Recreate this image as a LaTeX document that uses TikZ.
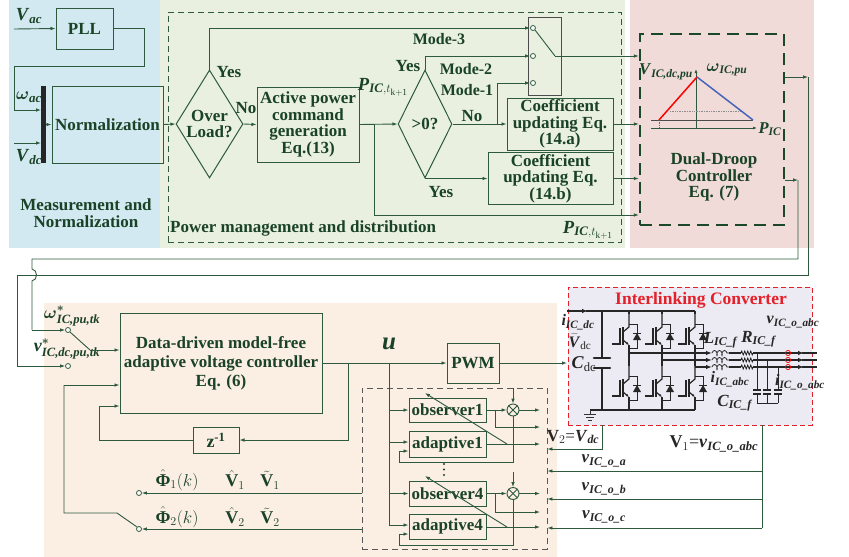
\documentclass[tikz,border=0pt]{standalone}
\usepackage{fontspec}
\usepackage{amsmath}
\setmainfont{Liberation Serif}
\usetikzlibrary{arrows.meta,shapes.geometric,decorations.pathmorphing}
\definecolor{lc}{RGB}{45,90,60}
\definecolor{tc}{RGB}{26,66,38}
\definecolor{bgblue}{RGB}{210,233,241}
\definecolor{bggreen}{RGB}{233,240,224}
\definecolor{bgpink}{RGB}{240,219,217}
\definecolor{bgpeach}{RGB}{251,238,227}
\definecolor{bgconv}{RGB}{236,234,242}
\definecolor{convred}{RGB}{228,32,42}
\definecolor{dkg}{RGB}{28,72,42}
\definecolor{droopblue}{RGB}{70,100,185}
\newcommand{\boxfont}{\fontsize{17}{16.5}\selectfont\bfseries}
\newcommand{\mylab}[2]{$\textbf{\textit{#1}}_{\textbf{\textit{#2}}}$}
\newcommand{\bPhi}{\text{\bfseries Φ}}
\tikzset{
 ln/.style={draw=lc,line width=0.9pt},
 arr/.style={ln,-{Latex[length=5pt,width=3.6pt]}},
 blk/.style={draw=lc,line width=1pt,text=tc,font=\boxfont,align=center,inner sep=0pt},
 lbl/.style={text=tc,font=\boxfont,inner sep=0pt,align=center},
 mlbl/.style={text=tc,font=\fontsize{18.5}{18.5}\selectfont,inner sep=0pt},
 klbl/.style={text=black!85,font=\fontsize{16}{16}\selectfont,inner sep=0pt},
 port/.style={circle,draw=lc,line width=0.8pt,fill=white,inner sep=0pt,minimum size=5pt},
 cv/.style={draw=black!85,line width=1.2pt},
 cvarr/.style={cv,-{Latex[length=6pt,width=4.5pt]}},
 igbt/.pic={
   \draw[cv] (0,-22)--(0,-9)--(-6,-4);
   \draw[cv,-{Latex[length=3pt,width=2.5pt]}] (-6,4)--(0,9);
   \draw[cv] (0,9)--(0,22);
   \draw[black!85,line width=1.6pt] (-6,-9)--(-6,9);
   \draw[cv] (-9,-8)--(-9,8)--(-17,8);
   \draw[cv,line width=0.9pt] (0,-12)--(8,-12)--(8,12)--(0,12);
   \fill[black!85] (4,4)--(12,4)--(8,-3)--cycle;
   \draw[cv,line width=0.9pt] (4,-3)--(12,-3);
 },
}
\begin{document}
\begin{tikzpicture}[x=1pt,y=-1pt]
\useasboundingbox (0,0) rectangle (849,557);
% ---------- backgrounds
\fill[bgblue] (9,0) rectangle (160,248);
\fill[bggreen] (160,0) rectangle (625,248);
\fill[bgpink] (630,0) rectangle (814,248);
\fill[bgpeach] (44,303) rectangle (557,557);
\node[draw=convred,line width=1pt,dash pattern=on 5pt off 3pt,fill=bgconv,minimum width=244,minimum height=138,inner sep=0] (convbox) at (690,356) {};
\node[draw=lc,line width=0.9pt,dash pattern=on 6pt off 4pt,minimum width=453,minimum height=230,inner sep=0] (pmd) at (394.5,127) {};
\node[draw=black!65,line width=0.9pt,dash pattern=on 6pt off 4pt,minimum width=185,minimum height=161,inner sep=0] (inner) at (454.5,468.5) {};
\node[draw=dkg,line width=2.4pt,dash pattern=on 12pt off 7pt,minimum width=144,minimum height=191,inner sep=0] (dd) at (712,129.5) {};

% ---------- top-left: measurement
\node[blk,minimum width=57,minimum height=41] (pll) at (84.5,28.5) {PLL};
\node[blk,minimum width=111,minimum height=77] (norm) at (107.5,124.5) {Normalization};
\node[fill=black!85,minimum width=5,minimum height=77,inner sep=0] (bar) at (43.5,124.5) {};
\node[mlbl] (vac) at (29,16) {\mylab{V}{ac}};
\node[mlbl] (wac) at (29,97) {$\boldsymbol{\omega}_{\textbf{\textit{ac}}}$};
\node[mlbl] (vdc) at (29,157) {\mylab{V}{dc}};
\node[lbl,font=\fontsize{17}{17.5}\selectfont\bfseries] (meas) at (86,213) {Measurement and\\Normalization};
\coordinate (vacin) at (14,29);
\coordinate (vdcin) at (14,143);
\draw[arr] (vacin) -- (pll.west);
\draw[arr] (pll.east) -- (144,28.5) -- (144,66) -- (14,66) -- (14,110) -- (41,110);
\draw[arr] (vdcin) -- (41,143);
\draw[arr] (bar.east) -- (norm.west);

% ---------- power management
\node[blk,diamond,aspect=0.62,minimum width=67,minimum height=108] (ol) at (209.5,124) {Over\\Load?};
\node[blk,minimum width=102,minimum height=75] (apc) at (308,124.5) {Active power\\command\\generation\\Eq.(13)};
\node[blk,diamond,aspect=0.5,minimum width=54,minimum height=108] (gz) at (425,124) {>0?};
\node[blk,minimum width=106,minimum height=52] (ca) at (560,124) {Coefficient\\updating Eq.\\(14.a)};
\node[blk,minimum width=125,minimum height=52] (cb) at (550.5,178.5) {Coefficient\\updating Eq.\\(14.b)};
\node[draw=black!70,line width=1pt,minimum width=33,minimum height=78,inner sep=0] (sw) at (544.5,56) {};
\node[port] (m3) at (533,28) {};
\node[port] (m2) at (533,56) {};
\node[port] (m1) at (533,83) {};
\coordinate (swo) at (555,56);
\draw[ln] (m3.south east) -- (swo);

\node[lbl] (yes1) at (229,72) {Yes};
\node[lbl] (no1) at (246,108) {No};
\node[lbl] (yes2) at (408,66) {Yes};
\node[lbl,font=\fontsize{16}{16}\selectfont\bfseries] (mode3) at (439,39) {Mode-3};
\node[lbl,font=\fontsize{16}{16}\selectfont\bfseries] (mode2) at (466,69) {Mode-2};
\node[lbl,font=\fontsize{16}{16}\selectfont\bfseries] (mode1) at (467,90) {Mode-1};
\node[lbl] (no2) at (472,116) {No};
\node[lbl] (yes3) at (441,192) {Yes};
\node[mlbl] (p1) at (383,87) {$\textbf{\textit{P}}_{\textbf{\textit{IC}},t_{\mathrm{k+1}}}$};
\node[mlbl] (p2) at (588,230) {$\textbf{\textit{P}}_{\textbf{\textit{IC}},t_{\mathrm{k+1}}}$};
\node[lbl,anchor=west] (pmdt) at (170,228) {Power management and distribution};

\draw[arr] (norm.east) -- (ol.west);
\draw[arr] (ol.north) -- (209.5,28) -- (m3.west);
\draw[arr] (ol.east) -- (apc.west);
\draw[arr] (apc.east) -- (gz.west);
\draw[arr] (374,124.5) -- (374,215) -- (dd.west |- 374,215);
\draw[arr] (gz.north) -- (425,56) -- (m2.west);
\draw[arr] (gz.east) -- (ca.west);
\draw[arr] (497,124) -- (497,83) -- (m1.west);
\draw[arr] (gz.south) -- (gz.south -| cb.west);
\draw[arr] (swo) -- (swo -| dd.west);
\draw[arr] (ca.east) -- (ca.east -| dd.west);
\draw[arr] (cb.east) -- (cb.east -| dd.west);

% ---------- dual droop
\node[lbl,font=\fontsize{17}{16.5}\selectfont\bfseries] (ddt) at (714,177) {Dual-Droop\\Controller\\Eq. (7)};
\coordinate (ax0) at (696,128);
\draw[lc,line width=0.8pt,-{Latex[length=4pt,width=3pt]}] (651,128) -- (757,128);
\draw[lc,line width=0.8pt,-{Latex[length=4pt,width=3pt]}] (ax0) -- (696,69);
\draw[black!70,line width=0.7pt] (651,120) -- (753,120);
\draw[black!45,line width=0.7pt,densely dotted] (670,111) -- (740,111);
\draw[black!60,line width=0.7pt,densely dotted] (659,120) -- (659,128);
\draw[red,line width=1.5pt] (659,120) -- (697,77);
\draw[droopblue,line width=1.5pt] (697,77) -- (753,120);
\node[mlbl,font=\fontsize{16.5}{16.5}\selectfont] (vicdc) at (666,72) {\mylab{V}{IC,dc,pu}};
\node[mlbl,font=\fontsize{16.5}{16.5}\selectfont] (wic) at (727,70) {$\boldsymbol{\omega}_{\textbf{\textit{IC,pu}}}$};
\node[mlbl,font=\fontsize{16.5}{16.5}\selectfont] (pic) at (770,129) {\mylab{P}{IC}};

% ---------- feedback wires from dual droop
\coordinate (o1) at (808,77);
\coordinate (o2) at (798,180);
\draw[arr] (dd.east |- o1) -- (o1);
\draw[arr] (dd.east |- o2) -- (o2);
\node[port] (wst) at (68,330) {};
\node[port] (vst) at (68,366) {};
\draw[ln] (o1) -- (808,275) -- (17,275) -- (17,366);
\draw[arr] (17,366) -- (vst.west);
\draw[ln] (o2) -- (798,259) -- (32,259) -- (32,269) .. controls (38,270) and (38,280) .. (32,281) -- (32,330);
\draw[arr] (32,330) -- (wst.west);
\node[mlbl,font=\fontsize{18}{18}\selectfont] (wlab) at (72,316) {$\boldsymbol{\omega}^{\boldsymbol{*}}_{\textbf{\textit{IC,pu,tk}}}$};
\node[mlbl,font=\fontsize{18}{18}\selectfont] (vlab) at (67,349) {$\textbf{\textit{v}}^{\boldsymbol{*}}_{\textbf{\textit{IC,dc,pu,tk}}}$};

% ---------- lower controller
\node[blk,minimum width=202,minimum height=100,font=\fontsize{17}{19}\selectfont\bfseries] (dmf) at (221,363) {Data-driven model-free\\adaptive voltage controller\\Eq. (6)};
\node[blk,minimum width=46,minimum height=26] (zinv) at (216,440) {\fontsize{18}{18}\selectfont z\textsuperscript{-1}};
\node[blk,minimum width=52,minimum height=40] (pwm) at (473,363) {PWM};
\node[text=tc,inner sep=0,font=\fontsize{25}{25}\selectfont\bfseries\itshape] (u) at (389,344) {u};
\coordinate (swb) at (90,350);
\draw[ln] (wst.south east) -- (swb);
\draw[arr] (swb) -- (dmf.west |- swb);
\draw[arr] (dmf.east) -- (pwm.west);
\draw[arr] (348,363) -- (348,440) -- (zinv.east);
\draw[arr] (zinv.west) -- (99,440) -- (99,406) -- (dmf.west |- 99,406);
\draw[arr] (pwm.east) -- (567,363);

% Phi labels and return switch
\node[mlbl,font=\fontsize{18}{18}\selectfont] (phi1) at (177,480) {$\hat{\bPhi}_1(k)$};
\node[mlbl,font=\fontsize{18}{18}\selectfont] (vh1) at (235,480) {$\hat{\mathbf{V}}_1$};
\node[mlbl,font=\fontsize{18}{18}\selectfont] (vt1) at (270,480) {$\tilde{\mathbf{V}}_1$};
\node[mlbl,font=\fontsize{18}{18}\selectfont] (phi2) at (177,517) {$\hat{\bPhi}_2(k)$};
\node[mlbl,font=\fontsize{18}{18}\selectfont] (vh2) at (235,517) {$\hat{\mathbf{V}}_2$};
\node[mlbl,font=\fontsize{18}{18}\selectfont] (vt2) at (270,517) {$\tilde{\mathbf{V}}_2$};
\node[port] (r1) at (139,493) {};
\node[port] (r2) at (139,529) {};
\draw[arr] (inner.west |- r1) -- (r1.east);
\draw[arr] (inner.west |- r2) -- (r2.east);
\coordinate (swc) at (117,513);
\draw[ln] (r2.north west) -- (swc) -- (64,513) -- (64,385);
\draw[arr] (64,385) -- (dmf.west |- 64,385);

% observers / adaptive
\node[blk,minimum width=77,minimum height=24] (ob1) at (447.5,410) {observer1};
\node[blk,minimum width=77,minimum height=26] (ad1) at (447.5,444) {adaptive1};
\node[blk,minimum width=77,minimum height=25] (ob4) at (447.5,493.5) {observer4};
\node[blk,minimum width=77,minimum height=25] (ad4) at (447.5,526.5) {adaptive4};
\foreach \yd in {464,469.5,475}{\fill[tc] (444,\yd) circle[radius=1.1];}
\draw[ln] (389,363) -- (389,525);
\draw[arr] (389,410) -- (ob1.west);
\draw[arr] (389,442) -- (ad1.west |- 389,442);
\draw[arr] (389,493.5) -- (ob4.west);
\draw[arr] (389,525) -- (ad4.west |- 389,525);

\foreach \n/\yo/\ya/\yb/\ybot/\yfb/\ydiag in {1/410/444/427/462/451/393, 4/493.5/527/512/545/534/476}{
  \node[circle,draw=lc,line width=0.9pt,minimum size=12pt,inner sep=0] (mul\n) at (513,\yo) {};
  \draw[ln] (mul\n.north west) -- (mul\n.south east);
  \draw[ln] (mul\n.north east) -- (mul\n.south west);
  \draw[arr] (ob\n.east) -- (mul\n.west);
  \draw[arr] (mul\n.east) -- (540,\yo);
  \draw[arr] (495,\yo) -- (495,\yb) -- (540,\yb);
  \draw[arr] (513,\yo-22) -- (mul\n.north);
  \draw[arr] (mul\n.south) -- (513,\ybot) -- (399,\ybot) -- (399,\yfb) -- (ad\n.west |- 399,\yfb);
  \draw[arr] (ad\n.east |- 486,\ya) -- (540,\ya);
  \draw[arr] (507,\ya) -- (425,\ydiag);
}

% inputs from converter
\coordinate (v2c) at (602,425);
\coordinate (v1c) at (762,425);
\draw[arr] (v2c) -- (602,449) -- (inner.east |- 602,449);
\draw[ln] (v1c) -- (762,528);
\draw[arr] (762,471) -- (inner.east |- 762,471);
\draw[arr] (762,499) -- (inner.east |- 762,499);
\draw[arr] (762,528) -- (inner.east |- 762,528);
\node[klbl,font=\fontsize{17}{17}\selectfont] (v2l) at (573,437) {$\mathbf{V}_2$=\textbf{\textit{V}}$_{\textbf{\textit{dc}}}$};
\node[klbl,font=\fontsize{18}{18}\selectfont] (v1l) at (714,444) {$\mathbf{V}_1$=\textbf{\textit{v}}$_{\textbf{\textit{IC\_o\_abc}}}$};
\node[klbl,font=\fontsize{17}{17}\selectfont] (val) at (604,461) {\mylab{v}{IC\_o\_a}};
\node[klbl,font=\fontsize{17}{17}\selectfont] (vbl) at (604,489) {\mylab{v}{IC\_o\_b}};
\node[klbl,font=\fontsize{17}{17}\selectfont] (vcl) at (604,517) {\mylab{v}{IC\_o\_c}};

% ---------- interlinking converter
\node[text=convred,inner sep=0,font=\fontsize{17.5}{17.5}\selectfont\bfseries] (ict) at (701,300) {Interlinking Converter};
\draw[cvarr] (567,311) -- (588,311);
\draw[cv] (586,311) -- (695,311);
\draw[cv] (602,311) -- (602,358);
\draw[cv] (602,369) -- (602,410);
\draw[black!85,line width=2.6pt,line cap=round] (594,358) -- (610,358);
\draw[black!85,line width=2.6pt,line cap=round] (594,368) -- (610,368);
\draw[cv] (590,410) -- (695,410);
\draw[black!80,line width=0.7pt] (590,410) -- (590,414) (584,414) -- (596,414) (586,417) -- (594,417) (588,420) -- (592,420);
\foreach \x/\ym in {629/353, 662/360, 695/367}{
  \pic at (\x,336) {igbt};
  \pic at (\x,388) {igbt};
  \draw[cv] (\x,311) -- (\x,314);
  \draw[cv] (\x,358) -- (\x,366);
  \draw[cvarr] (\x,\ym) -- (712,\ym);
  \draw[black!85,line width=0.8pt,decorate,decoration={coil,aspect=0.5,segment length=5pt,amplitude=2.5pt}] (712,\ym) -- (729,\ym);
  \draw[cv] (729,\ym) -- (741,\ym);
  \draw[black!85,line width=0.8pt,decorate,decoration={zigzag,segment length=3pt,amplitude=2pt}] (741,\ym) -- (753,\ym);
  \draw[cvarr] (753,\ym) -- (804,\ym);
  \draw[cv] (802,\ym) -- (817,\ym);
  \draw[red,line width=0.7pt] (788,\ym) circle[radius=2.6];
}
\foreach \x/\ym in {757/353, 767/360, 778/367}{
  \draw[cv,line width=0.9pt] (\x,\ym) -- (\x,390);
  \draw[cv,line width=1.1pt] (\x-4,390) -- (\x+4,390) (\x-4,394) -- (\x+4,394);
  \draw[cv,line width=0.9pt] (\x,394) -- (\x,403);
}
\draw[cv,line width=0.9pt] (757,403) -- (778,403);
\node[klbl] (idc) at (578,322) {\mylab{i}{IC\_dc}};
\node[klbl] (vdcb) at (580,342) {$\bar{\textbf{\textit{V}}}_{\mathrm{dc}}$};
\node[klbl,font=\fontsize{18}{18}\selectfont] (cdc) at (584,364) {$\textbf{\textit{C}}_{\mathrm{dc}}$};
\node[klbl,font=\fontsize{17}{17}\selectfont] (lf) at (721,340) {\mylab{L}{IC\_f}};
\node[klbl,font=\fontsize{17}{17}\selectfont] (rf) at (759,339) {\mylab{R}{IC\_f}};
\node[klbl] (iabc) at (730,379) {\mylab{i}{IC\_abc}};
\node[klbl] (ioabc) at (800,382) {\mylab{i}{IC\_o\_abc}};
\node[klbl,font=\fontsize{17}{17}\selectfont] (cf) at (735,403) {\mylab{C}{IC\_f}};
\node[klbl] (voabc) at (793,322) {\mylab{v}{IC\_o\_abc}};
\end{tikzpicture}
\end{document}
